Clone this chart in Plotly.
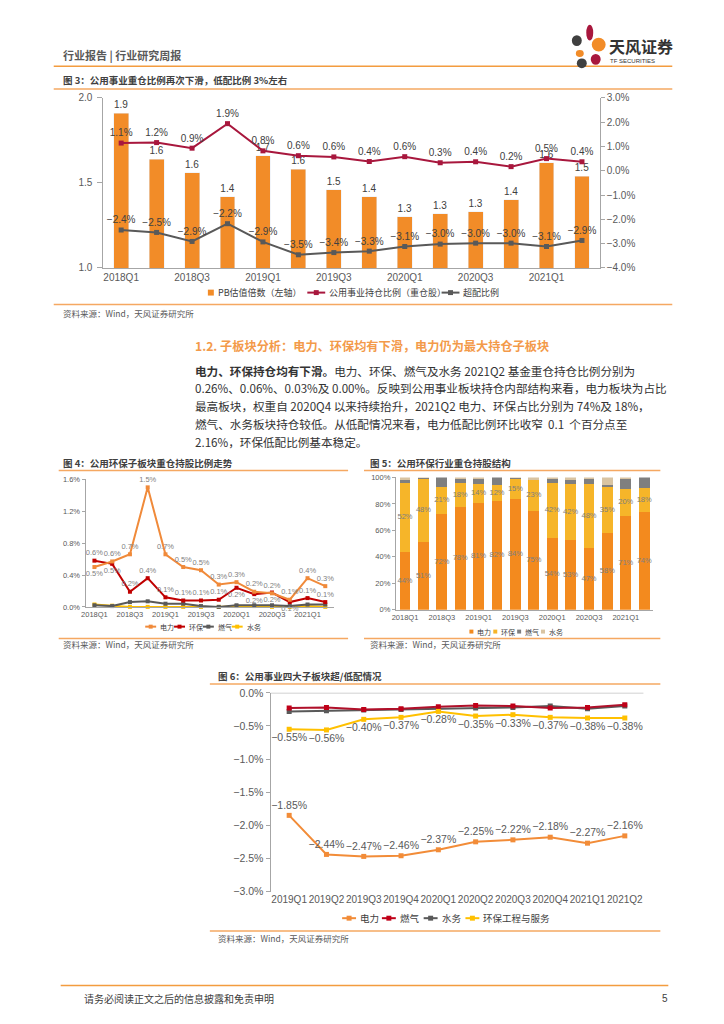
import plotly.graph_objects as go

W, H = 724, 1024


def px(x):
    return x / W


def py(y):
    return 1 - y / H


# ---------------- data ----------------
quarters = ["2018Q1", "2018Q2", "2018Q3", "2018Q4", "2019Q1", "2019Q2", "2019Q3",
            "2019Q4", "2020Q1", "2020Q2", "2020Q3", "2020Q4", "2021Q1", "2021Q2"]
tick_quarters = ["2018Q1", "2018Q3", "2019Q1", "2019Q3", "2020Q1", "2020Q3", "2021Q1"]

# Fig 3
pb_ratio = [1.91, 1.64, 1.56, 1.42, 1.66, 1.58, 1.46, 1.42, 1.30, 1.32, 1.33, 1.40, 1.62, 1.54]
heavy_hold = [1.14, 1.16, 0.93, 1.94, 0.82, 0.62, 0.57, 0.38, 0.58, 0.33, 0.37, 0.17, 0.50, 0.37]
over_alloc = [-2.44, -2.54, -2.91, -2.18, -2.93, -3.46, -3.37, -3.31, -3.12, -3.02, -2.98, -2.98, -3.12, -2.87]

# Fig 4
power4 = [0.50, 0.57, 0.66, 1.50, 0.66, 0.50, 0.46, 0.28, 0.31, 0.19, 0.17, 0.09, 0.36, 0.26]
env4 = [0.58, 0.54, 0.19, 0.36, 0.12, 0.08, 0.08, 0.09, 0.24, 0.16, 0.18, 0.06, 0.11, 0.06]
gas4 = [0.02, 0.01, 0.06, 0.07, 0.04, 0.04, 0.01, 0.00, 0.02, 0.02, 0.02, 0.01, 0.03, 0.03]
water4 = [0.03, 0.015, 0.00, 0.00, 0.00, 0.00, 0.00, 0.00, 0.01, 0.01, 0.00, 0.00, 0.01, 0.00]

# Fig 5 (share of holdings, %)
power5 = [44, 51, 72, 78, 81, 82, 84, 75, 54, 53, 47, 58, 71, 74]
env5 = [52, 48, 21, 18, 14, 12, 15, 23, 42, 42, 48, 35, 20, 18]
gas5 = [2, 0.5, 7, 3, 4, 6, 0.5, 0, 2.5, 3, 3.5, 1, 8, 8]
water5 = [2, 0.5, 0, 1, 1, 0, 0.5, 2, 1.5, 2, 1.5, 6, 1, 0]

# Fig 6
quarters6 = ["2019Q1", "2019Q2", "2019Q3", "2019Q4", "2020Q1",
             "2020Q2", "2020Q3", "2020Q4", "2021Q1", "2021Q2"]
power6 = [-1.85, -2.44, -2.47, -2.46, -2.37, -2.25, -2.22, -2.18, -2.27, -2.16]
gas6 = [-0.23, -0.22, -0.25, -0.24, -0.21, -0.19, -0.20, -0.23, -0.22, -0.18]
water6 = [-0.28, -0.27, -0.26, -0.25, -0.25, -0.23, -0.22, -0.20, -0.24, -0.20]
env6 = [-0.55, -0.56, -0.40, -0.37, -0.28, -0.35, -0.33, -0.37, -0.38, -0.38]

# ---------------- styles ----------------
FONT = "Liberation Sans, Noto Sans CJK SC, sans-serif"
CJK = "Noto Sans CJK SC, sans-serif"
ORANGE = "#F28C28"
CRIMSON = "#A8173D"
DGRAY = "#595959"
RED = "#C00000"
YELLOW = "#FFC000"
LINE_OR = "#F5A862"
TXT = "#404040"
AXC = "#A6A6A6"

pos4_power = ["bottom center", "top center", "top center", "top center", "top center", "top center",
              "top center", "top center", "top center", "top center", "top center", "top center",
              "top center", "top center"]
pos4_env = ["top center", "bottom center", "top center", "top center", "top center", "top center",
            "top center", "top center", "bottom center", "bottom center", "bottom center", "bottom center",
            "top center", "top center"]


def pct(v, d=1):
    return (f"{v:.{d}f}%").replace("-", "−")


fig = go.Figure()

# ---- Fig 3 ----
fig.add_trace(go.Bar(x=quarters, y=pb_ratio, marker_color=ORANGE, width=0.42,
                     text=[f"{v:.1f}" for v in pb_ratio], textposition="outside",
                     textfont=dict(size=10, color=TXT, family=FONT), cliponaxis=False,
                     xaxis="x", yaxis="y"))
fig.add_trace(go.Scatter(x=quarters, y=heavy_hold, mode="lines+markers+text",
                         line=dict(color=CRIMSON, width=2), marker=dict(symbol="square", size=5, color=CRIMSON),
                         text=[pct(v) for v in heavy_hold], textposition="top center",
                         textfont=dict(size=10, color=TXT, family=FONT), cliponaxis=False,
                         xaxis="x", yaxis="y2"))
fig.add_trace(go.Scatter(x=quarters, y=over_alloc, mode="lines+markers+text",
                         line=dict(color=DGRAY, width=2), marker=dict(symbol="square", size=5, color=DGRAY),
                         text=[pct(v) for v in over_alloc], textposition="top center",
                         textfont=dict(size=10, color=TXT, family=FONT), cliponaxis=False,
                         xaxis="x", yaxis="y2"))

# ---- Fig 4 ----
for vals, col, pos, lab in [(water4, YELLOW, None, False), (gas4, DGRAY, None, False),
                            (env4, RED, pos4_env, True), (power4, "#F08A3A", pos4_power, True)]:
    fig.add_trace(go.Scatter(x=quarters, y=vals, mode="lines+markers+text" if lab else "lines+markers",
                             line=dict(color=col, width=2), marker=dict(symbol="square", size=4, color=col),
                             text=[pct(v) for v in vals] if lab else None,
                             textposition=pos if lab else None,
                             textfont=dict(size=7.5, color="#7F7F7F", family=FONT), cliponaxis=False,
                             xaxis="x3", yaxis="y3"))

# ---- Fig 5 ----
for vals, col in [(power5, "#F38A1E"), (env5, "#F6B529"), (gas5, "#7F7F7F"), (water5, "#D9C4A2")]:
    fig.add_trace(go.Bar(x=quarters, y=vals, marker_color=col, width=0.58, marker_line_width=0,
                         xaxis="x4", yaxis="y4"))
fig.add_trace(go.Scatter(x=quarters, y=[v / 2 for v in power5], mode="text",
                         text=[f"{v}%" for v in power5], textfont=dict(size=7.5, color="#808080", family=FONT),
                         xaxis="x4", yaxis="y4"))
fig.add_trace(go.Scatter(x=quarters, y=[p + e / 2 for p, e in zip(power5, env5)], mode="text",
                         text=[f"{v}%" for v in env5], textfont=dict(size=7.5, color="#808080", family=FONT),
                         xaxis="x4", yaxis="y4"))

# ---- Fig 6 ----
fig.add_trace(go.Scatter(x=quarters6, y=power6, mode="lines+markers+text",
                         line=dict(color="#F28C38", width=2), marker=dict(symbol="square", size=5, color="#F28C38"),
                         text=[pct(v, 2) for v in power6], textposition="top center",
                         textfont=dict(size=10.5, color=DGRAY, family=FONT), cliponaxis=False,
                         xaxis="x5", yaxis="y5"))
fig.add_trace(go.Scatter(x=quarters6, y=water6, mode="lines+markers",
                         line=dict(color=DGRAY, width=2), marker=dict(symbol="square", size=5, color=DGRAY),
                         xaxis="x5", yaxis="y5"))
fig.add_trace(go.Scatter(x=quarters6, y=gas6, mode="lines+markers",
                         line=dict(color="#B0102A", width=2), marker=dict(symbol="square", size=5, color="#C00018"),
                         xaxis="x5", yaxis="y5"))
fig.add_trace(go.Scatter(x=quarters6, y=env6, mode="lines+markers+text",
                         line=dict(color=YELLOW, width=2), marker=dict(symbol="square", size=5, color=YELLOW),
                         text=[pct(v, 2) for v in env6], textposition="bottom center",
                         textfont=dict(size=10.5, color=DGRAY, family=FONT), cliponaxis=False,
                         xaxis="x5", yaxis="y5"))

# ---------------- axes ----------------
ax_common = dict(showgrid=False, zeroline=False, showline=True, linecolor=AXC, linewidth=1,
                 ticks="outside", tickcolor=AXC)

layout = dict(
    width=W, height=H, margin=dict(l=0, r=0, t=0, b=0),
    paper_bgcolor="white", plot_bgcolor="white", showlegend=False, hovermode=False,
    barmode="stack", font=dict(family=FONT, color=TXT),
    # fig 3
    xaxis=dict(domain=[px(100), px(599)], anchor="y", type="category", categoryarray=quarters,
               range=[-0.5, 13.5], tickvals=tick_quarters, ticktext=tick_quarters, tickangle=0,
               tickfont=dict(size=10, color=DGRAY), showgrid=False, zeroline=False, showline=True,
               linecolor=AXC, ticks=""),
    yaxis=dict(domain=[py(265), py(93)], anchor="x", range=[1.0, 2.0], tickvals=[1.0, 1.5, 2.0],
               ticktext=["1.0", "1.5", "2.0"], tickfont=dict(size=10, color=DGRAY), ticklen=5,
               ticklabelstandoff=3, **ax_common),
    yaxis2=dict(overlaying="y", anchor="x", side="right", range=[-4, 3], tickvals=list(range(-4, 4)),
                ticktext=[pct(v) for v in range(-4, 4)], tickfont=dict(size=10, color=DGRAY), ticklen=4,
                **ax_common),
    # fig 4
    xaxis3=dict(domain=[px(82), px(332)], anchor="y3", type="category", categoryarray=quarters,
                range=[-0.5, 13.5], tickvals=tick_quarters, ticktext=tick_quarters, tickangle=0,
                tickfont=dict(size=7.5, color=DGRAY), showgrid=False, zeroline=False, showline=True,
                linecolor=AXC, ticks=""),
    yaxis3=dict(domain=[py(608), py(479)], anchor="x3", range=[0, 1.6], tickvals=[0, 0.4, 0.8, 1.2, 1.6],
                ticktext=["0.0%", "0.4%", "0.8%", "1.2%", "1.6%"], tickfont=dict(size=7.5, color=DGRAY),
                ticklen=3, **ax_common),
    # fig 5
    xaxis4=dict(domain=[px(394), px(653)], anchor="y4", type="category", categoryarray=quarters,
                range=[-0.5, 13.5], tickvals=tick_quarters, ticktext=tick_quarters, tickangle=0,
                tickfont=dict(size=7.5, color=DGRAY), showgrid=False, zeroline=False, showline=True,
                linecolor=AXC, ticks=""),
    yaxis4=dict(domain=[py(611), py(477)], anchor="x4", range=[0, 100], tickvals=[0, 20, 40, 60, 80, 100],
                ticktext=["0%", "20%", "40%", "60%", "80%", "100%"], tickfont=dict(size=7.5, color=DGRAY),
                ticklen=3, **ax_common),
    # fig 6
    xaxis5=dict(domain=[px(268), px(643)], anchor="y5", type="category", categoryarray=quarters6,
                range=[-0.5, 9.5], tickangle=0, tickfont=dict(size=10, color=DGRAY), showgrid=False,
                zeroline=False, showline=False, ticks=""),
    yaxis5=dict(domain=[py(896), py(695)], anchor="x5", range=[-3.0, 0.0],
                tickvals=[-3.0, -2.5, -2.0, -1.5, -1.0, -0.5, 0.0],
                ticktext=[pct(v) for v in [-3.0, -2.5, -2.0, -1.5, -1.0, -0.5, 0.0]],
                tickfont=dict(size=10.5, color=DGRAY), ticklen=4, **ax_common),
)
fig.update_layout(**layout)

shapes = []
annotations = []


def hline(y, x0, x1, color=LINE_OR, w=1.5):
    shapes.append(dict(type="line", xref="paper", yref="paper", x0=px(x0), x1=px(x1), y0=py(y), y1=py(y),
                       line=dict(color=color, width=w)))


def text(x, y, s, size=10, color=TXT, anchor="left", family=CJK):
    annotations.append(dict(x=px(x), y=py(y), xref="paper", yref="paper", text=s, showarrow=False,
                            xanchor=anchor, yanchor="middle", font=dict(size=size, color=color, family=family)))


def leg_line(x0, y, color, label, w=18, size=9, m=2.5):
    hline(y, x0, x0 + w, color=color, w=2)
    shapes.append(dict(type="rect", xref="paper", yref="paper", x0=px(x0 + w / 2 - m), x1=px(x0 + w / 2 + m),
                       y0=py(y + m), y1=py(y - m), fillcolor=color, line=dict(width=0)))
    text(x0 + w + 2, y, label, size=size)


def leg_box(x0, y, color, label, s=6, size=9):
    shapes.append(dict(type="rect", xref="paper", yref="paper", x0=px(x0), x1=px(x0 + s),
                       y0=py(y + s / 2), y1=py(y - s / 2), fillcolor=color, line=dict(width=0)))
    text(x0 + s + 2, y, label, size=size)


# zero line for fig 6
shapes.append(dict(type="line", xref="x5 domain", yref="y5", x0=0, x1=1, y0=0, y1=0,
                   line=dict(color=AXC, width=1)))

# header
text(57, 50, "<b>行业报告 | 行业研究周报</b>", size=11, color="#595959")
hline(61, 50, 672, color="#F39C3F", w=1.5)
# logo
for cx, cy, rx, ry, col in [(589, 27, 3.5, 8, "#A8173D"), (598, 39, 7, 7, "#F28C28"),
                            (576, 35, 5, 5.5, "#404040"), (579, 48, 4, 3.5, "#F28C28"),
                            (595, 54, 5, 5.5, "#A8173D"), (581, 58, 5, 5, "#404040")]:
    shapes.append(dict(type="circle", xref="paper", yref="paper", x0=px(cx - rx), x1=px(cx + rx),
                       y0=py(cy + ry), y1=py(cy - ry), fillcolor=col, line=dict(width=0)))
text(606, 40, "<b>天风证券</b>", size=16, color="#333333")
text(607, 56, "TF SECURITIES", size=6, color="#333333", family=FONT)

# Fig 3 frame
text(57, 75, "<b>图 3：公用事业重仓比例再次下滑，低配比例 3%左右</b>", size=9.5, color="#404040")
hline(84, 50, 672)
leg_box(205, 290, ORANGE, "PB估值倍数（左轴）", size=9)
leg_line(305, 290, CRIMSON, "公用事业持仓比例（重仓股）", size=9)
leg_line(440, 290, DGRAY, "超配比例", size=9)
hline(302, 50, 672)
text(57, 311, "资料来源：Wind，天风证券研究所", size=8.5, color="#595959")

# section heading and paragraph
text(190, 344, "<b>1.2. 子板块分析：电力、环保均有下滑，电力仍为最大持仓子板块</b>", size=12.2, color="#F39A4A")
para = [
    "<b>电力、环保持仓均有下滑。</b>电力、环保、燃气及水务 2021Q2 基金重仓持仓比例分别为",
    "0.26%、0.06%、0.03%及 0.00%。反映到公用事业板块持仓内部结构来看，电力板块为占比",
    "最高板块，权重自 2020Q4 以来持续抬升，2021Q2 电力、环保占比分别为 74%及 18%，",
    "燃气、水务板块持仓较低。从低配情况来看，电力低配比例环比收窄  0.1  个百分点至",
    "2.16%，环保低配比例基本稳定。",
]
for i, ln in enumerate(para):
    text(190, 369 + i * 18, ln, size=11.6, color="#333333")

# Fig 4 frame
text(57, 462, "<b>图 4：公用环保子板块重仓持股比例走势</b>", size=9.5)
hline(470, 55, 346)
leg_line(142, 628, "#F08A3A", "电力", w=11, size=7, m=2)
leg_line(171, 628, RED, "环保", w=11, size=7, m=2)
leg_line(200, 628, DGRAY, "燃气", w=11, size=7, m=2)
leg_line(229, 628, YELLOW, "水务", w=11, size=7, m=2)
hline(640, 55, 346)
text(57, 646, "资料来源：Wind，天风证券研究所", size=8.5, color="#595959")

# Fig 5 frame
text(366, 462, "<b>图 5：公用环保行业重仓持股结构</b>", size=9.5)
hline(470, 362, 660)
leg_box(468, 633, "#F38A1E", "电力", s=4, size=7)
leg_box(492, 633, "#F6B529", "环保", s=4, size=7)
leg_box(516, 633, "#7F7F7F", "燃气", s=4, size=7)
leg_box(540, 633, "#D9C4A2", "水务", s=4, size=7)
hline(640, 362, 660)
text(366, 646, "资料来源：Wind，天风证券研究所", size=8.5, color="#595959")

# Fig 6 frame
text(213, 678, "<b>图 6：公用事业四大子板块超/低配情况</b>", size=9.5)
hline(686, 207, 660)
leg_line(340, 923, "#F28C38", "电力", w=14, size=9.5, m=2.5)
leg_line(380, 923, "#C00018", "燃气", w=14, size=9.5, m=2.5)
leg_line(422, 923, DGRAY, "水务", w=14, size=9.5, m=2.5)
leg_line(464, 923, YELLOW, "环保工程与服务", w=14, size=9.5, m=2.5)
hline(936, 207, 660)
text(213, 943, "资料来源：Wind，天风证券研究所", size=8.5, color="#595959")

# footer
hline(991, 57, 668, color="#F39C3F", w=1.5)
text(78, 1004, "请务必阅读正文之后的信息披露和免责申明", size=10, color="#404040")
text(670, 1004, "5", size=10, color="#404040", anchor="right", family=FONT)

fig.update_layout(shapes=shapes, annotations=annotations)
fig.write_html("out.html", config={"displayModeBar": False, "staticPlot": True},
               post_script="document.body.style.margin='0px';document.body.style.overflow='hidden';")
